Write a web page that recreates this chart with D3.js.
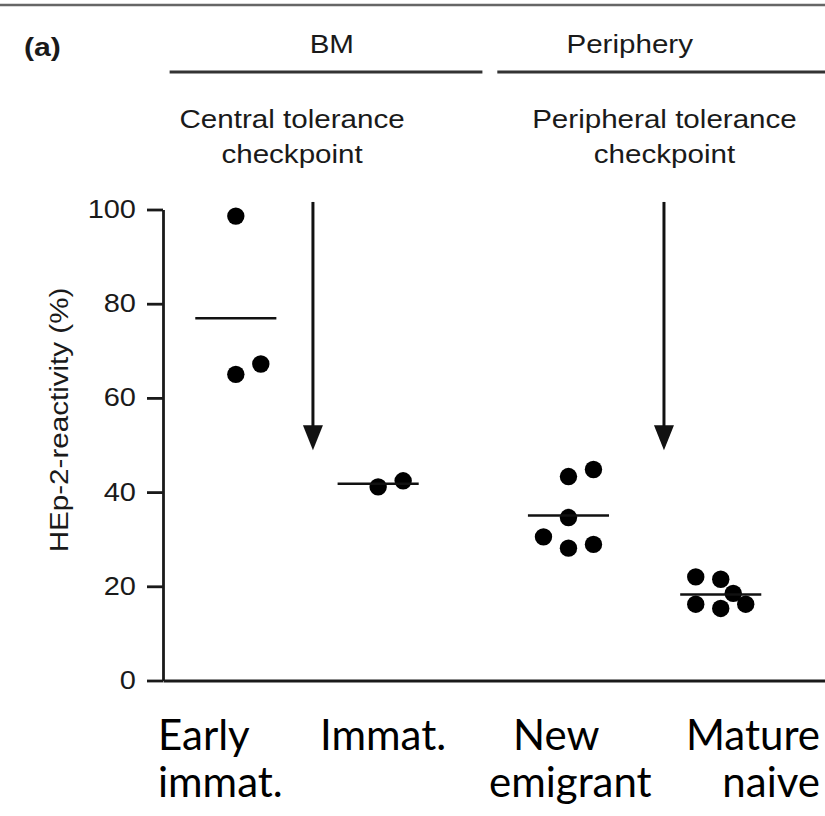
<!DOCTYPE html>
<html>
<head>
<meta charset="utf-8">
<script src="https://cdn.jsdelivr.net/npm/d3@7"></script>
<style>
  body { margin: 0; background: #fff; }
  svg { display: block; }
  text { fill: #1a1a1a; font-family: "Liberation Sans", Arial, sans-serif; }
  .cat text { font-family: Lato, "Open Sans", sans-serif; fill: #000; }
</style>
</head>
<body>
<div id="root"></div>
<script>
// groups along the x axis, two text lines each
const categories = [['Early', 'immat.'], ['Immat.'], ['New', 'emigrant'], ['Mature', 'naive']];
// position of each group on the x axis (axis units)
const categoryPos = [0.44, 1.30, 2.45, 3.37];

// HEp-2 reactivity (%) per donor
const earlyImmat = [98.6, 65.0, 67.2];
const immat = [41.1, 42.4];
const newEmigrant = [43.3, 44.8, 34.6, 30.5, 28.1, 28.9];
const matureNaive = [22.0, 21.5, 18.5, 16.2, 15.3, 16.2];

// side-by-side slot of each dot (so equal values do not hide each other)
const earlySlot = [0, 0, 1];
const immatSlot = [0, 1];
const newSlot = [0, 1, 0, -1, 0, 1];
const matureSlot = [-1, 0, 0.5, -1, 0, 1];

const yTicks = [0, 20, 40, 60, 80, 100];

// annotations
const regions = ['BM', 'Periphery'];
const checkpoints = [['Central tolerance', 'checkpoint'], ['Peripheral tolerance', 'checkpoint']];

const width = 825,
    height = 816;

const groups = [earlyImmat, immat, newEmigrant, matureNaive];
const slots = [earlySlot, immatSlot, newSlot, matureSlot];

const x = d3.scaleLinear().domain([0, 4]).range([163, 825]);
const y = d3.scaleLinear().domain([0, 100]).range([680.5, 209.5]);

const slotW = 0.151;   // one dot slot, axis units
const meanHalf = 0.245; // half width of mean bar

const SX = 1.16; // the figure's text is a bit wide

const svg = d3.select('#root').append('svg')
    .attr('width', width)
    .attr('height', height);

function label(sel, px, py, str, opt) {
    opt = opt || {};
    return sel.append('text')
        .attr('transform', 'translate(' + px + ',' + py + ') rotate(' + (opt.rotate || 0) + ') scale(' + SX + ',1)')
        .attr('text-anchor', opt.anchor || 'middle')
        .style('font-size', (opt.size || 25.5) + 'px')
        .style('font-weight', opt.bold ? 'bold' : null)
        .text(str);
}

// rule at the very top
svg.append('line')
    .attr('x1', 0).attr('x2', width)
    .attr('y1', 5).attr('y2', 5)
    .attr('stroke', '#666').attr('stroke-width', 2.5);

label(svg, 24, 56, '(a)', { anchor: 'start', bold: true, size: 26 });

// BM / Periphery headers
const regionSpan = [[0.04, 1.93, 1.02], [2.02, 4.0, 2.82]];
regions.forEach(function (r, i) {
    const s = regionSpan[i];
    label(svg, x(s[2]), 53, r);
    svg.append('line')
        .attr('x1', x(s[0])).attr('x2', x(s[1]))
        .attr('y1', 72).attr('y2', 72)
        .attr('stroke', '#333').attr('stroke-width', 3);
});

// checkpoints with arrows
const checkX = [0.78, 3.03];
const arrowX = [0.906, 3.027];
checkpoints.forEach(function (c, i) {
    label(svg, x(checkX[i]), 128, c[0]);
    label(svg, x(checkX[i]), 163, c[1]);

    const ax = x(arrowX[i]),
        top = y(101.6),
        tip = y(48.9);
    svg.append('line')
        .attr('x1', ax).attr('x2', ax)
        .attr('y1', top).attr('y2', tip - 20)
        .attr('stroke', '#111').attr('stroke-width', 3);
    svg.append('path')
        .attr('d', 'M' + (ax - 10) + ',' + (tip - 25) + 'L' + (ax + 10) + ',' + (tip - 25) + 'L' + ax + ',' + tip + 'Z')
        .attr('fill', '#111');
});

// y axis
const yAxis = svg.append('g')
    .attr('transform', 'translate(' + x(0) + ',0)')
    .call(d3.axisLeft(y).tickValues(yTicks).tickSize(16).tickSizeOuter(0));
yAxis.selectAll('path, line').attr('stroke', '#1a1a1a').attr('stroke-width', 2.8);
yAxis.selectAll('text')
    .attr('x', null)
    .attr('transform', 'translate(-27,0) scale(' + SX + ',1)')
    .attr('fill', '#1a1a1a')
    .style('font-size', '25px')
    .style('font-family', '"Liberation Sans", Arial, sans-serif');

// x axis, no ticks
const xAxis = svg.append('g')
    .attr('transform', 'translate(0,' + y(0) + ')')
    .call(d3.axisBottom(x).tickValues([]).tickSizeOuter(0));
xAxis.select('path').attr('stroke', '#1a1a1a').attr('stroke-width', 2.8);

label(svg, 68, 420, 'HEp-2-reactivity (%)', { rotate: -90 });

// dots and mean bars
groups.forEach(function (vals, i) {
    const g = svg.append('g');
    g.selectAll('circle')
        .data(vals)
        .enter()
        .append('circle')
        .attr('cx', function (d, j) { return x(categoryPos[i] + slots[i][j] * slotW); })
        .attr('cy', function (d) { return y(d); })
        .attr('r', 8.7)
        .attr('fill', '#000');

    const m = d3.mean(vals);
    g.append('line')
        .attr('x1', x(categoryPos[i] - meanHalf))
        .attr('x2', x(categoryPos[i] + meanHalf))
        .attr('y1', y(m)).attr('y2', y(m))
        .attr('stroke', '#111').attr('stroke-width', 2.5);
});

// category names below the axis
const catLayout = [
    [[158, 'start'], [158, 'start']],
    [[320, 'start']],
    [[513, 'start'], [489, 'start']],
    [[820, 'end'], [820, 'end']]
];
const lineY = [750, 797];
const cat = svg.append('g').attr('class', 'cat');
categories.forEach(function (words, i) {
    words.forEach(function (w, k) {
        cat.append('text')
            .attr('x', catLayout[i][k][0])
            .attr('y', lineY[k])
            .attr('text-anchor', catLayout[i][k][1])
            .style('font-size', '42px')
            .text(w);
    });
});
</script>
</body>
</html>
